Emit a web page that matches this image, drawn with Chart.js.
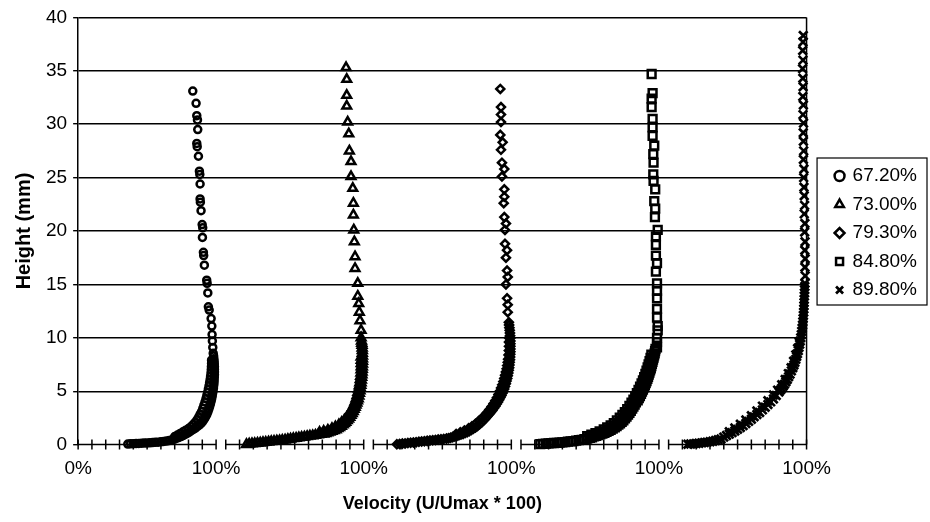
<!DOCTYPE html>
<html>
<head>
<meta charset="utf-8">
<script src="https://cdn.jsdelivr.net/npm/chart.js@4.4.1/dist/chart.umd.min.js"></script>
<style>
  html, body { margin: 0; padding: 0; background: #fff; }
  #wrap { width: 930px; height: 522px; }
</style>
</head>
<body>
<div id="wrap"><canvas id="myChart"></canvas></div>
<script>
// series names (legend)
const seriesNames = ["67.20%", "73.00%", "79.30%", "84.80%", "89.80%"];

// each profile: [velocity (U/Umax, %), height (mm)]
const profile1 = [
  [36, 0.05], [38, 0.07], [40, 0.08], [42, 0.1], [44, 0.11], [46, 0.13], [48, 0.14], [50, 0.16],
  [52, 0.17], [54, 0.19], [56, 0.21], [58, 0.23], [60, 0.26], [62, 0.29], [64, 0.33], [66, 0.38],
  [68, 0.45], [70, 0.52], [72, 0.62], [73, 0.67], [74.5, 0.75], [76, 0.85], [77.5, 0.95], [79, 1.05],
  [80.5, 1.17], [82, 1.3], [83.5, 1.42], [85, 1.55], [86.5, 1.7], [88, 1.85], [89.3, 2.0], [90.5, 2.2],
  [91.5, 2.4], [92.4, 2.6], [93.2, 2.8], [94, 3.05], [94.7, 3.3], [95.3, 3.55], [95.9, 3.8], [96.4, 4.05],
  [96.8, 4.3], [97.2, 4.55], [97.5, 4.8], [97.8, 5.05], [98.1, 5.3], [98.3, 5.55], [98.5, 5.8], [98.6, 6.05],
  [98.7, 6.3], [98.8, 6.55], [98.8, 6.8], [98.8, 7.05], [98.8, 7.3], [98.7, 7.55], [98.6, 7.8], [98.4, 8.05],
  [98.2, 8.3], [97.9, 8.55], [97.6, 9.1], [97.3, 9.7], [97.1, 10.3], [96.9, 11.1], [96.4, 11.8], [95.0, 12.6],
  [94.4, 12.9], [94.0, 14.2], [93.5, 15.1], [93.2, 15.4], [91.5, 16.8], [91.0, 17.7], [90.8, 18.0], [90.1, 19.4],
  [90.3, 20.3], [89.9, 20.6], [89.1, 21.9], [88.6, 22.7], [88.4, 23.0], [88.4, 24.4], [88.2, 25.3], [87.9, 25.6],
  [87.2, 27.0], [86.3, 27.9], [86.0, 28.2], [86.7, 29.5], [86.5, 30.4], [86.0, 30.8], [85.5, 31.95], [83.1, 33.1]
];
// second traverse near the wall (inner edge of the dark band)
const profile1b = [
  [70, 0.75], [72, 0.9], [74, 1.05], [76, 1.2], [78, 1.35], [80, 1.5], [82, 1.7], [83.5, 1.9],
  [85, 2.1], [86.3, 2.35], [87.5, 2.6], [88.5, 2.85], [89.5, 3.1], [90.4, 3.4], [91.2, 3.7], [92, 4.0],
  [92.7, 4.3], [93.3, 4.6], [93.9, 4.9], [94.4, 5.2], [94.9, 5.5], [95.3, 5.8], [95.7, 6.1], [96, 6.4],
  [96.3, 6.7], [96.5, 7.0], [96.6, 7.3], [96.7, 7.6], [96.7, 7.9]
];
const profile2 = [
  [15, 0.02], [17, 0.05], [19, 0.08], [21, 0.1], [23, 0.13], [25, 0.16], [27, 0.19], [29, 0.22],
  [31, 0.25], [33, 0.28], [35, 0.31], [37, 0.34], [39, 0.37], [41, 0.4], [43, 0.44], [45, 0.48],
  [47, 0.52], [49, 0.56], [51, 0.6], [53, 0.64], [55, 0.68], [57, 0.72], [59, 0.76], [61, 0.8],
  [63, 0.84], [65, 0.88], [67, 0.92], [69, 0.96], [71, 1.0], [72.5, 1.05], [74, 1.1], [75.5, 1.17],
  [77, 1.25], [78.5, 1.32], [80, 1.4], [81.3, 1.5], [82.5, 1.6], [83.8, 1.72], [85, 1.85], [86, 1.97],
  [87, 2.1], [88, 2.25], [89, 2.4], [89.9, 2.57], [90.8, 2.75], [91.6, 2.92], [92.4, 3.1], [93.1, 3.3],
  [93.8, 3.5], [94.4, 3.7], [95, 3.9], [95.5, 4.1], [96, 4.3], [96.5, 4.55], [96.9, 4.8], [97.3, 5.05],
  [97.6, 5.3], [97.9, 5.55], [98.1, 5.8], [98.3, 6.05], [98.5, 6.3], [98.7, 6.55], [98.8, 6.8], [98.9, 7.05],
  [99.0, 7.3], [99.1, 7.55], [99.1, 7.8], [99.1, 8.05], [99.1, 8.3], [99.0, 8.55], [99.0, 8.8], [98.9, 9.05],
  [98.8, 9.3], [98.6, 9.5], [98.4, 9.7], [98.1, 10.0], [98.1, 10.7], [97.3, 11.6], [96.8, 12.4], [96.4, 13.2],
  [95.7, 13.9], [95.7, 15.1], [93.7, 16.5], [93.7, 17.6], [93.2, 19.0], [92.8, 20.1], [92.5, 21.5], [92.5, 22.6],
  [92.1, 24.0], [90.8, 25.1], [90.8, 26.5], [89.6, 27.5], [89.2, 29.1], [88.4, 30.2], [87.7, 31.7], [87.7, 32.7],
  [87.7, 34.2], [87.2, 35.3]
];
const profile2b = [
  [68, 1.15], [71, 1.25], [74, 1.35], [77, 1.5], [79.5, 1.67], [82, 1.87], [84, 2.08], [86, 2.3],
  [87.7, 2.55], [89.2, 2.82], [90.5, 3.1], [91.7, 3.4], [92.8, 3.7], [93.7, 4.0], [94.5, 4.3], [95.2, 4.6],
  [95.8, 4.9], [96.3, 5.2], [96.8, 5.5], [97.2, 5.8], [97.5, 6.1], [97.8, 6.4], [98.0, 6.7], [98.1, 7.0],
  [98.2, 7.3], [98.2, 7.6], [98.2, 7.9], [98.1, 8.2]
];
const profile3 = [
  [17, 0.03], [19, 0.06], [21, 0.09], [23, 0.11], [25, 0.14], [27, 0.17], [29, 0.2], [31, 0.23],
  [33, 0.26], [35, 0.29], [37, 0.32], [39, 0.35], [41, 0.38], [43, 0.41], [45, 0.44], [47, 0.47],
  [49, 0.5], [51, 0.53], [53, 0.56], [54.5, 0.6], [56, 0.65], [57.5, 0.7], [59, 0.75], [60.5, 0.81],
  [62, 0.87], [63.5, 0.94], [65, 1.0], [66.5, 1.08], [68, 1.16], [69.5, 1.25], [71, 1.36], [72.5, 1.48],
  [74, 1.6], [75.5, 1.75], [77, 1.9], [78.5, 2.08], [80, 2.27], [81.3, 2.45], [82.5, 2.63], [83.8, 2.83],
  [85, 3.0], [86.2, 3.2], [87.3, 3.4], [88.4, 3.6], [89.4, 3.8], [90.3, 4.0], [91.2, 4.2], [92, 4.4],
  [92.8, 4.6], [93.5, 4.8], [94.2, 5.0], [94.8, 5.2], [95.4, 5.45], [96, 5.7], [96.5, 5.95], [97, 6.2],
  [97.4, 6.45], [97.8, 6.7], [98.1, 6.95], [98.4, 7.2], [98.6, 7.45], [98.8, 7.7], [99.0, 7.95], [99.1, 8.2],
  [99.2, 8.45], [99.3, 8.7], [99.3, 8.95], [99.3, 9.2], [99.3, 9.45], [99.3, 9.7], [99.2, 9.95], [99.1, 10.2],
  [99.0, 10.45], [98.8, 10.7], [98.6, 10.95], [98.4, 11.2], [98.2, 11.45], [97.4, 12.4], [97.4, 13.1], [96.9, 13.7],
  [96.1, 15.0], [97.4, 15.7], [96.9, 16.3], [96.1, 17.5], [96.9, 18.2], [95.4, 18.8], [95.4, 20.1], [96.1, 20.7],
  [94.9, 21.3], [94.5, 22.6], [94.9, 23.2], [94.9, 23.9], [93.2, 25.1], [94.9, 25.8], [93.2, 26.4], [92.5, 27.6],
  [93.7, 28.3], [92.0, 29.0], [92.5, 30.2], [92.5, 30.9], [92.5, 31.6], [92.0, 33.3]
];
const profile3b = [
  [60, 1.0], [63, 1.15], [66, 1.32], [69, 1.52], [71.5, 1.72], [74, 1.95], [76.3, 2.2], [78.5, 2.45],
  [80.5, 2.72], [82.4, 3.0], [84.1, 3.28], [85.7, 3.56], [87.1, 3.84], [88.4, 4.12], [89.6, 4.4], [90.7, 4.7],
  [91.7, 5.0], [92.6, 5.3], [93.4, 5.6], [94.2, 5.9], [94.9, 6.2], [95.5, 6.5], [96.1, 6.8], [96.6, 7.1],
  [97.0, 7.4], [97.4, 7.7], [97.7, 8.0], [98.0, 8.4], [98.2, 8.8], [98.3, 9.2], [98.3, 9.6], [98.3, 10.0]
];
const profile4 = [
  [14, 0.05], [16, 0.07], [18, 0.09], [20, 0.11], [22, 0.13], [24, 0.15], [26, 0.17], [28, 0.19],
  [30, 0.21], [32, 0.24], [34, 0.27], [36, 0.3], [38, 0.33], [40, 0.37], [42, 0.41], [44, 0.45],
  [46, 0.51], [48, 0.57], [50, 0.64], [51.5, 0.68], [53, 0.76], [54.5, 0.82], [56, 0.89], [57.5, 0.96],
  [59, 1.03], [60.5, 1.11], [62, 1.19], [63.5, 1.29], [65, 1.39], [66.5, 1.5], [68, 1.62], [69.3, 1.74],
  [70.6, 1.86], [71.8, 1.98], [73, 2.12], [74.2, 2.28], [75.4, 2.45], [76.5, 2.62], [77.6, 2.8], [78.6, 2.98],
  [79.6, 3.16], [80.6, 3.36], [81.5, 3.55], [82.4, 3.75], [83.3, 3.95], [84.6, 4.15], [85.4, 4.35], [86.2, 4.55],
  [87, 4.75], [87.7, 4.95], [88.4, 5.15], [89.1, 5.35], [89.8, 5.55], [90.4, 5.75], [91, 5.95], [91.6, 6.15],
  [92.1, 6.35], [92.6, 6.55], [93.1, 6.75], [93.6, 6.95], [94.1, 7.15], [94.5, 7.35], [94.9, 7.55], [95.3, 7.75],
  [95.7, 7.95], [96.1, 8.15], [96.5, 8.35], [96.9, 8.55], [97.2, 8.75], [97.5, 8.95], [98.6, 9.1], [98.6, 9.6],
  [98.6, 10.0], [99.1, 10.7], [99.1, 11.1], [98.6, 11.9], [98.6, 12.7], [98.6, 13.7], [98.6, 14.4], [98.6, 15.1],
  [97.8, 16.2], [98.6, 17.0], [97.8, 17.7], [97.8, 18.7], [97.8, 19.5], [99.1, 20.1], [97.1, 21.3], [97.3, 22.1],
  [96.6, 22.8], [97.3, 23.9], [96.1, 24.7], [95.9, 25.3], [96.1, 26.4], [95.9, 27.2], [96.6, 28.0], [95.4, 28.9],
  [95.4, 29.7], [95.4, 30.5], [94.7, 31.6], [94.7, 32.4], [95.4, 32.9], [94.7, 34.7]
];
const profile4b = [
  [48, 0.8], [51, 0.93], [54, 1.07], [57, 1.23], [60, 1.42], [62.5, 1.6], [65, 1.8], [67.3, 2.02],
  [69.5, 2.26], [71.6, 2.52], [73.5, 2.78], [75.3, 3.05], [77, 3.33], [78.6, 3.62], [80.1, 3.92], [81.5, 4.22],
  [82.8, 4.52], [84, 4.82], [85.2, 5.12], [86.3, 5.42], [87.4, 5.72], [88.4, 6.02], [89.3, 6.32], [90.2, 6.62],
  [91, 6.92], [91.8, 7.22], [92.5, 7.52], [93.2, 7.82], [93.9, 8.12], [94.5, 8.42]
];
const profile5 = [
  [14, 0.03], [16, 0.05], [18, 0.07], [20, 0.1], [22, 0.13], [24, 0.16], [26, 0.19], [28, 0.23],
  [30, 0.27], [32, 0.32], [34, 0.38], [36, 0.45], [38, 0.53], [40, 0.7], [42, 0.85], [44, 0.98],
  [46, 1.12], [48, 1.27], [50, 1.43], [52, 1.6], [54, 1.78], [56, 1.97], [58, 2.17], [60, 2.38],
  [62, 2.6], [64, 2.82], [66, 3.0], [68, 3.25], [70, 3.5], [72, 3.75], [74, 4.0], [76, 4.27],
  [78, 4.6], [80, 4.93], [81, 5.1], [82, 5.28], [83, 5.46], [84, 5.65], [85, 5.87], [86, 6.1],
  [87, 6.35], [88, 6.6], [89, 6.9], [90, 7.2], [90.8, 7.45], [91.5, 7.7], [92.2, 7.98], [92.8, 8.25],
  [93.4, 8.52], [94, 8.8], [94.5, 9.1], [95, 9.4], [95.4, 9.7], [95.8, 10.0], [96.2, 10.3], [96.5, 10.6],
  [96.8, 10.9], [97.1, 11.2], [97.3, 11.5], [97.5, 11.8], [97.7, 12.1], [97.9, 12.4], [98.0, 12.7], [98.1, 13.0],
  [98.2, 13.3], [98.3, 13.6], [98.4, 13.9], [98.5, 14.2], [98.6, 14.5], [98.7, 14.8], [98.8, 15.1], [99.0, 15.8],
  [98.8, 16.6], [99.0, 17.4], [98.7, 18.2], [98.9, 19.0], [98.6, 19.9], [98.8, 20.7], [98.3, 21.6], [98.6, 22.4],
  [98.3, 23.3], [98.1, 24.1], [97.9, 25.0], [98.1, 25.8], [97.7, 26.7], [97.9, 27.5], [97.7, 28.4], [97.6, 29.2],
  [97.8, 30.1], [97.4, 30.9], [97.7, 31.8], [97.3, 32.6], [97.5, 33.5], [97.3, 34.3], [97.1, 35.2], [97.4, 36.0],
  [97.2, 36.9], [97.4, 37.7], [97.6, 38.3]
];
const profile5b = [
  [44, 1.2], [48, 1.55], [52, 1.9], [56, 2.3], [60, 2.7], [64, 3.15], [68, 3.6], [72, 4.1],
  [76, 4.65], [79, 5.1], [82, 5.6], [84.5, 6.1], [86.8, 6.65], [88.8, 7.2], [90.6, 7.8], [92.2, 8.4],
  [93.5, 9.0], [94.6, 9.6]
];
const profiles = [
  profile1.concat(profile1b),
  profile2.concat(profile2b),
  profile3.concat(profile3b),
  profile4.concat(profile4b),
  profile5.concat(profile5b)
];

// each profile sits on its own 0-100% stretch of the x axis, shifted right by this much
const SHIFT = 107;
const xTickValues = [0, 100, 207, 314, 421, 528];
const yMax = 40;
const yStep = 5;

const markers = ["circle", "triangle", "rectRot", "rect", "crossRot"];
const markerSizes = [3.5, 5, 4, 5.5, 6];

Chart.defaults.font.family = "'Liberation Sans', Arial, sans-serif";
Chart.defaults.color = "#000";

// the x axis is drawn as five separate 0-100% pieces with "+" ticks, plus the right frame line;
// the legend is moved next to the plot and framed
const frameAndAxis = {
  id: "frameAndAxis",
  afterLayout(chart) {
    const lg = chart.legend;
    lg.left += 20;
    lg.right += 20;
    lg.top -= 32;
    lg.bottom -= 32;
  },
  beforeDatasetsDraw(chart) {
    const { ctx, chartArea, scales: { x, y } } = chart;
    const y0 = y.getPixelForValue(0);
    ctx.save();
    ctx.strokeStyle = "#000";
    ctx.lineWidth = 1.5;
    profiles.forEach((p, i) => {
      ctx.beginPath();
      ctx.moveTo(x.getPixelForValue(i * SHIFT), y0);
      ctx.lineTo(x.getPixelForValue(i * SHIFT + 100), y0);
      for (let t = 0; t <= 100; t += 10) {
        const px = x.getPixelForValue(i * SHIFT + t);
        ctx.moveTo(px, y0 - 5);
        ctx.lineTo(px, y0 + 5);
      }
      ctx.stroke();
    });
    ctx.beginPath();
    ctx.moveTo(chartArea.right, chartArea.top);
    ctx.lineTo(chartArea.right, y0);
    ctx.stroke();
    ctx.restore();
  },
  afterDraw(chart) {
    const boxes = chart.legend.legendHitBoxes;
    if (!boxes || !boxes.length) return;
    const last = boxes[boxes.length - 1];
    const left = Math.min(...boxes.map((b) => b.left)) - 19;
    const right = Math.max(...boxes.map((b) => b.left + b.width)) + 10;
    const top = boxes[0].top - 8.5;
    const bottom = last.top + last.height + 5.5;
    const ctx = chart.ctx;
    ctx.save();
    ctx.strokeStyle = "#000";
    ctx.lineWidth = 1.2;
    ctx.strokeRect(left, top, right - left, bottom - top);
    ctx.restore();
  }
};

const myChart = new Chart(document.getElementById("myChart"), {
  type: "scatter",
  data: {
    datasets: profiles.map((p, i) => ({
      label: seriesNames[i],
      data: p.map(([u, h]) => ({ x: u + i * SHIFT, y: h })),
      pointStyle: markers[i],
      pointRadius: markerSizes[i],
      pointBorderWidth: i === 4 ? 2.7 : 2.5,
      borderColor: "#000",
      backgroundColor: "rgba(0,0,0,0)",
      clip: false,
    })),
  },
  options: {
    responsive: true,
    maintainAspectRatio: false,
    animation: false,
    layout: { padding: { left: 12, top: 15, right: 23, bottom: 7 } },
    scales: {
      x: {
        type: "linear",
        min: 0,
        max: xTickValues[xTickValues.length - 1],
        afterBuildTicks: (axis) => {
          axis.ticks = xTickValues.map((v) => ({ value: v }));
        },
        ticks: {
          callback: (v) => (v === 0 ? "0%" : "100%"),
          autoSkip: false,
          maxRotation: 0,
          font: { size: 19 },
          padding: 13,
        },
        grid: { display: false, drawTicks: false, tickLength: 0 },
        border: { display: false },
        title: {
          display: true,
          text: "Velocity (U/Umax * 100)",
          font: { size: 18, weight: "bold" },
          padding: { top: 0, bottom: 0 },
        },
      },
      y: {
        min: 0,
        max: yMax,
        ticks: { stepSize: yStep, font: { size: 19 }, padding: 6 },
        grid: {
          color: (c) => (c.tick && c.tick.value === 0 ? "rgba(0,0,0,0)" : "#000"),
          tickColor: "#000",
          tickLength: 5,
          lineWidth: 1.4,
        },
        border: { display: true, color: "#000", width: 1.5 },
        title: {
          display: true,
          text: "Height (mm)",
          font: { size: 20, weight: "bold" },
          padding: { top: 0, bottom: 4 },
        },
      },
    },
    plugins: {
      tooltip: { enabled: false },
      legend: {
        position: "right",
        labels: {
          usePointStyle: true,
          boxWidth: 7,
          boxHeight: 7,
          padding: 9.5,
          font: { size: 19 },
          color: "#000",
        },
      },
    },
  },
  plugins: [frameAndAxis],
});
</script>
</body>
</html>
